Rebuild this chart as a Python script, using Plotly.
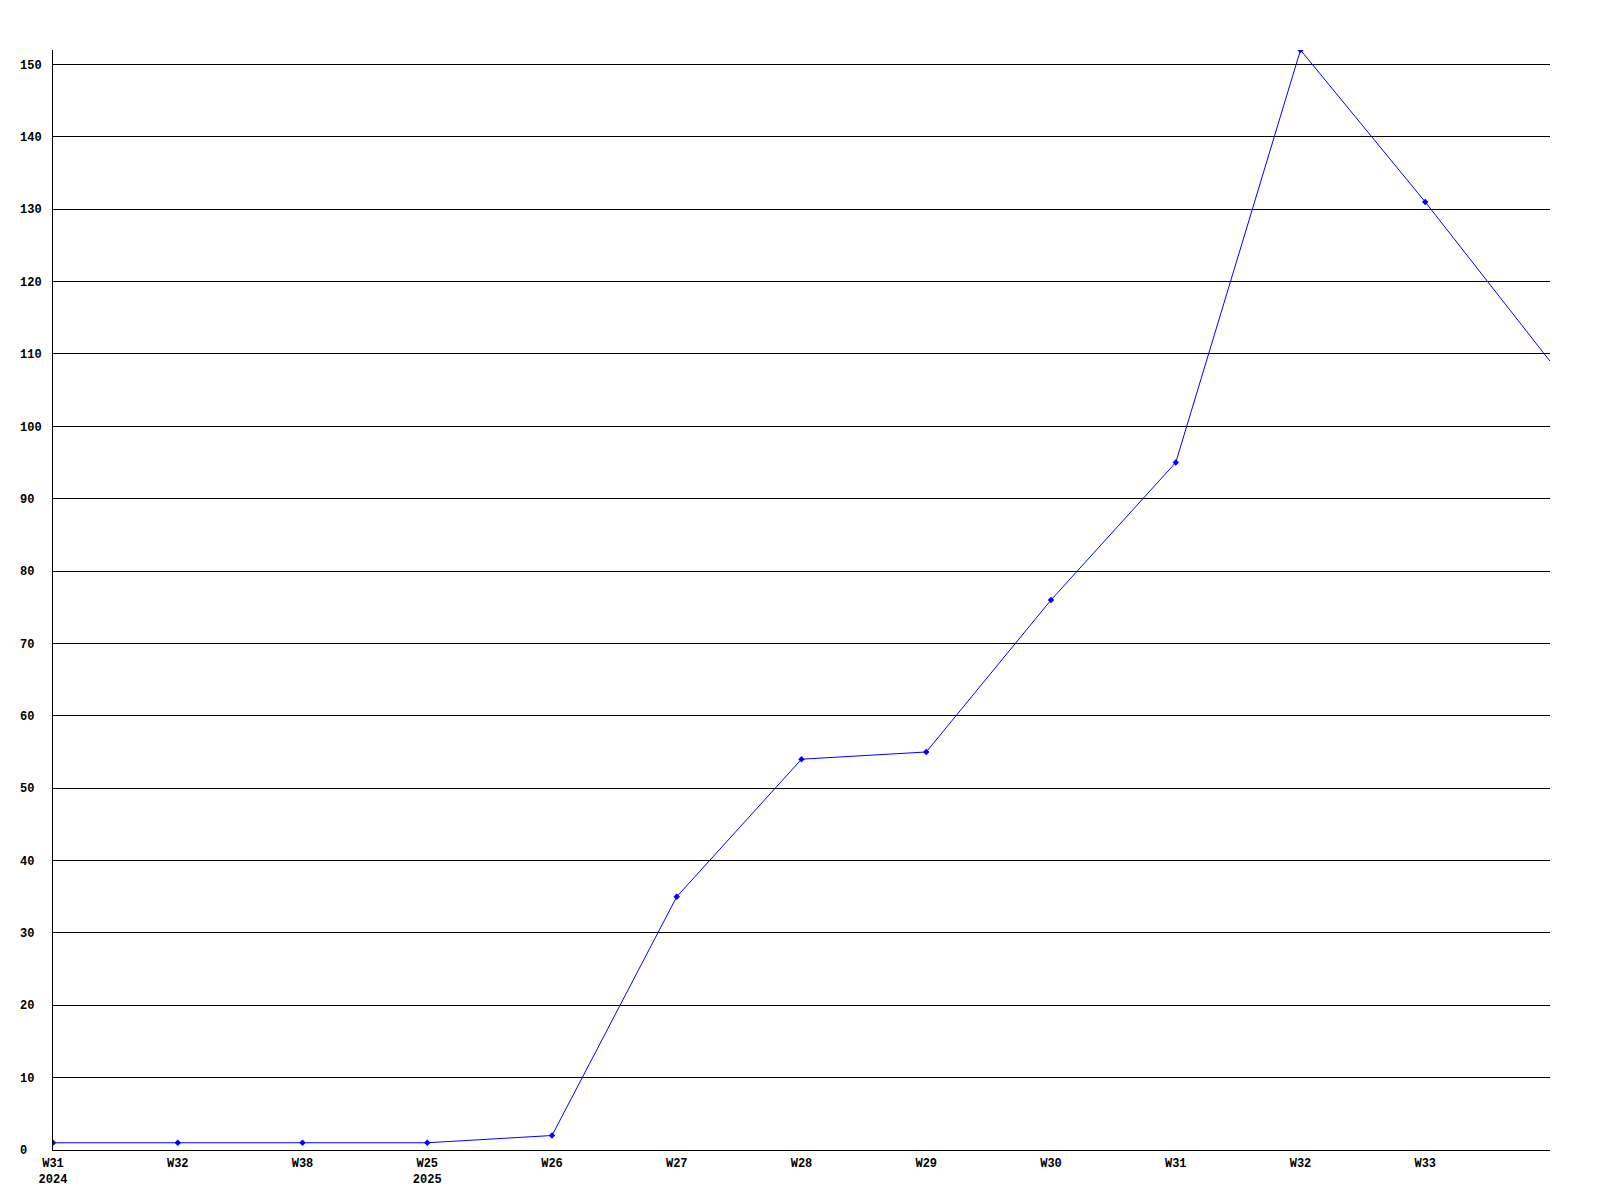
import plotly.graph_objects as go

week_labels = ["W31<br>2024", "W32", "W38", "W25<br>2025", "W26", "W27", "W28",
               "W29", "W30", "W31", "W32", "W33", ""]
values = [1, 1, 1, 1, 2, 35, 54, 55, 76, 95, 152, 131, 109]
y_ticks = list(range(0, 151, 10))

x_pos = list(range(len(values)))
marked = len(values) - 1  # last point sits on the right edge without a marker

fig = go.Figure()
fig.add_trace(go.Scatter(
    x=x_pos, y=values, mode="lines",
    line=dict(color="#0000ff", width=1),
    hoverinfo="skip", showlegend=False,
))
fig.add_trace(go.Scatter(
    x=x_pos[:marked], y=values[:marked], mode="markers",
    marker=dict(color="#0000ff", size=5, symbol="diamond"),
    showlegend=False,
))

font = dict(family="Liberation Mono, DejaVu Sans Mono, monospace", size=12,
            color="black", weight="bold")

fig.update_layout(
    width=1592, height=1192,
    margin=dict(l=42, r=50, t=42, b=50),
    paper_bgcolor="white", plot_bgcolor="white",
    font=font,
    xaxis=dict(
        range=[0, len(values) - 1],
        tickmode="array",
        tickvals=x_pos[:marked],
        ticktext=week_labels[:marked],
        showgrid=False, zeroline=False,
        showline=True, linecolor="black", linewidth=1,
        ticks="", tickfont=font, ticklabelstandoff=2,
    ),
    yaxis=dict(
        range=[0, 152],
        tickmode="array",
        tickvals=y_ticks,
        ticktext=[str(v) + "\u00a0" * (3 - len(str(v))) for v in y_ticks],
        showgrid=True, gridcolor="black", gridwidth=1,
        zeroline=False,
        showline=True, linecolor="black", linewidth=1,
        ticks="", tickfont=font, ticklabelstandoff=8,
    ),
)

fig.write_html("out.html")
